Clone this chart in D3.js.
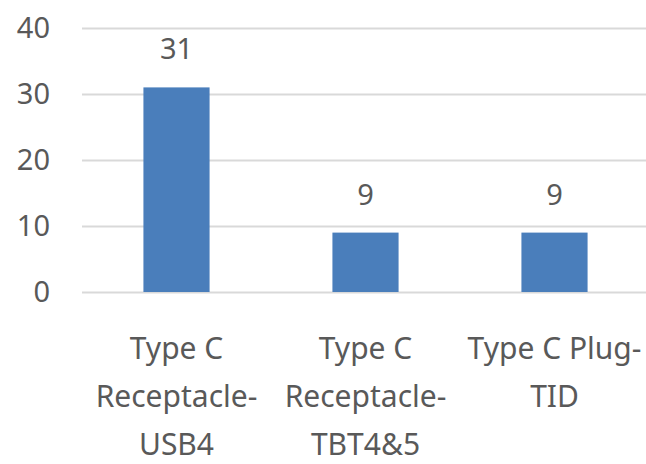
<!DOCTYPE html>
<html>
<head>
  <script src="https://d3js.org/d3.v7.min.js"></script>
  <style>
    body { margin: 0; background: #fff; }
    text { font-family: "Noto Sans", sans-serif; fill: #595959; }
  </style>
</head>
<body>
  <svg id="chart" width="646" height="464"></svg>
  <script>
    const categories = ["Type C Receptacle-USB4", "Type C Receptacle-TBT4&5", "Type C Plug-TID"];
    const labelLines = [["Type C", "Receptacle-", "USB4"], ["Type C", "Receptacle-", "TBT4&5"], ["Type C Plug-", "TID"]];
    const values = [31, 9, 9];
    const yTicks = [0, 10, 20, 30, 40];

    let svg = d3.select('svg#chart');
    const margins = { top: 28, right: -3, bottom: 172, left: 82 };
    const chartWidth = 646 - margins.left - margins.right;
    const chartHeight = 464 - margins.top - margins.bottom;

    const xScale = d3.scaleBand().domain(categories).range([0, chartWidth]).paddingInner(0.65).paddingOuter(0.325);
    const yScale = d3.scaleLinear().domain([0, 40]).range([chartHeight, 0]);

    let chartArea = svg.append('g')
      .attr('transform', `translate(${margins.left},${margins.top})`);

    // gridlines
    let grid = d3.axisLeft(yScale).tickValues(yTicks).tickSize(-chartWidth).tickFormat("");
    chartArea.append('g').attr('class', 'grid').call(grid)
      .call(g => g.select('.domain').remove())
      .call(g => g.selectAll('line').attr('stroke', '#d9d9d9').attr('stroke-width', 2));

    // y labels
    let leftAxis = d3.axisLeft(yScale).tickValues(yTicks).tickSize(0).tickPadding(32);
    chartArea.append('g').call(leftAxis)
      .call(g => g.select('.domain').remove())
      .call(g => g.selectAll('text').style('font-size', '29px').style('font-family', '"Noto Sans", sans-serif').attr('fill', '#595959'));

    // bars
    chartArea.selectAll('rect.bar').data(values)
      .join('rect')
      .attr('class', 'bar')
      .attr('x', (d, i) => xScale(categories[i]))
      .attr('y', d => yScale(d))
      .attr('width', xScale.bandwidth())
      .attr('height', d => chartHeight - yScale(d))
      .attr('fill', '#4a7ebb');

    // value labels
    chartArea.selectAll('text.val').data(values)
      .join('text')
      .attr('class', 'val')
      .attr('x', (d, i) => xScale(categories[i]) + xScale.bandwidth() / 2)
      .attr('y', d => yScale(d) - 28)
      .attr('text-anchor', 'middle')
      .style('font-size', '29px')
      .text(d => d);

    // category labels
    let cats = chartArea.selectAll('g.cat').data(categories)
      .join('g')
      .attr('class', 'cat')
      .attr('transform', d => `translate(${xScale(d) + xScale.bandwidth() / 2},${chartHeight})`);
    cats.each(function (d, i) {
      d3.select(this).selectAll('text').data(labelLines[i])
        .join('text')
        .attr('text-anchor', 'middle')
        .attr('y', (t, j) => 67 + j * 48)
        .style('font-size', '30px')
        .text(t => t);
    });
  </script>
</body>
</html>
